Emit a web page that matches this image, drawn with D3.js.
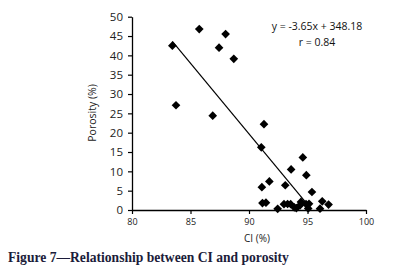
<!DOCTYPE html>
<html><head><meta charset="utf-8">
<script src="https://cdn.jsdelivr.net/npm/d3@7"></script>
<style>body{margin:0;background:#fff}svg{display:block}</style>
</head><body>
<script>
const ciValues = [83.45,85.75,88.0,87.44,88.7,83.76,86.9,91.28,91.05,94.6,93.6,94.9,91.74,91.1,93.1,95.38,91.15,91.45,92.99,93.3,93.56,92.45,93.87,94.05,94.44,94.87,95.13,94.36,95.06,96.07,96.26,96.8];
const porosityValues = [42.5,46.8,45.5,42.0,39.1,27.1,24.4,22.2,16.2,13.6,10.5,9.0,7.4,5.9,6.4,4.65,1.8,1.9,1.5,1.55,1.5,0.3,0.7,0.5,2.1,1.55,1.6,1.2,0.4,0.35,2.25,1.4];
const xTicks = [80,85,90,95,100];
const yTicks = [0,5,10,15,20,25,30,35,40,45,50];
const slope = -3.65, intercept = 348.18;
const fitRange = [83.45, 94.85];
const equationText = "y = -3.65x + 348.18";
const rText = "r = 0.84";
const xTitle = "CI (%)", yTitle = "Porosity (%)";
const caption = "Figure 7\u2014Relationship between CI and porosity";

const W=397,H=275;
const svg=d3.select("body").append("svg").attr("width",W).attr("height",H);
const x=d3.scaleLinear().domain([80,100]).range([132,366]);
const y=d3.scaleLinear().domain([0,50]).range([210,16.7]);
const font="'Open Sans', 'Liberation Sans', sans-serif";

const xa=svg.append("g").attr("transform","translate(0,210)")
  .call(d3.axisBottom(x).tickValues(xTicks).tickSize(4).tickSizeOuter(0));
xa.selectAll("text").attr("font-family",font).attr("font-size",9).attr("fill","#222").attr("dy","0.9em");
const ya=svg.append("g").attr("transform","translate(132,0)")
  .call(d3.axisLeft(y).tickValues(yTicks).tickSize(4).tickSizeOuter(0));
ya.selectAll("text").attr("font-family",font).attr("font-size",11.5).attr("fill","#222").attr("x",-9);
svg.selectAll(".domain").attr("stroke","#000").attr("stroke-width",1.3);
svg.selectAll(".tick line").attr("stroke","#000").attr("stroke-width",1.2);

svg.append("line").attr("x1",x(fitRange[0])).attr("y1",y(slope*fitRange[0]+intercept))
  .attr("x2",x(fitRange[1])).attr("y2",y(slope*fitRange[1]+intercept))
  .attr("stroke","#000").attr("stroke-width",1.2);

const sym=d3.symbol().type(d3.symbolDiamond2).size(48);
svg.append("g").selectAll("path").data(ciValues.map((c,i)=>[c,porosityValues[i]])).join("path")
  .attr("d",sym).attr("transform",d=>`translate(${x(d[0])},${y(d[1])})`).attr("fill","#000");

svg.append("text").attr("x",317).attr("y",30).attr("text-anchor","middle")
  .attr("font-family",font).attr("font-size",10.5).attr("fill","#111").text(equationText);
svg.append("text").attr("x",317).attr("y",45.5).attr("text-anchor","middle")
  .attr("font-family",font).attr("font-size",10.5).attr("fill","#111").text(rText);

svg.append("text").attr("x",257).attr("y",242).attr("text-anchor","middle")
  .attr("font-family",font).attr("font-size",10).attr("fill","#222").text(xTitle);
svg.append("text").attr("transform","translate(96,113) rotate(-90)").attr("text-anchor","middle")
  .attr("font-family",font).attr("font-size",10.5).attr("fill","#222").text(yTitle);

svg.append("text").attr("x",8).attr("y",262).attr("font-family","'Liberation Serif', serif")
  .attr("font-weight","bold").attr("font-size",13.6).attr("fill","#1c1c3a").text(caption);
</script>
</body></html>
